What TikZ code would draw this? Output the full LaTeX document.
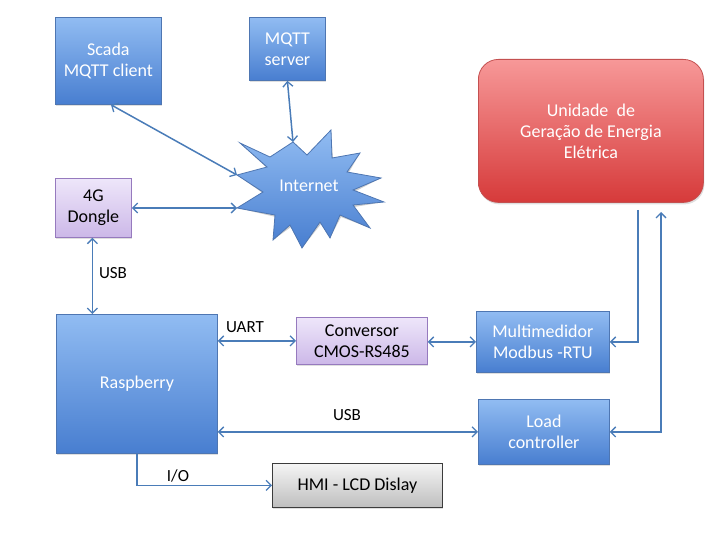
\documentclass[tikz,border=0pt]{standalone}
\usepackage{fontspec}
\setmainfont{Carlito}
\usetikzlibrary{arrows.meta,calc,shadows}
\definecolor{arrC}{RGB}{74,124,184}
\definecolor{blueTop}{RGB}{145,188,242}
\definecolor{blueBot}{RGB}{72,126,208}
\definecolor{blueBd}{RGB}{78,118,178}
\definecolor{purTop}{RGB}{238,230,250}
\definecolor{purBot}{RGB}{204,184,232}
\definecolor{purBd}{RGB}{150,122,190}
\definecolor{grayTop}{RGB}{245,245,245}
\definecolor{grayBot}{RGB}{190,190,190}
\definecolor{grayBd}{RGB}{60,60,60}
\definecolor{redTop}{RGB}{247,152,152}
\definecolor{redBot}{RGB}{214,58,58}
\definecolor{redBd}{RGB}{196,80,80}
\begin{document}
\begin{tikzpicture}[x=1pt,y=-1pt,
  basebox/.style={rectangle,anchor=north west,inner sep=2pt,align=center,
    font=\fontsize{18}{21}\selectfont,line width=0.8pt,
    drop shadow={opacity=0.25,shadow xshift=1pt,shadow yshift=-2pt}},
  bluebox/.style={basebox,draw=blueBd,top color=blueTop,bottom color=blueBot,text=white},
  purbox/.style={basebox,draw=purBd,top color=purTop,bottom color=purBot,text=black},
  graybox/.style={basebox,draw=grayBd,top color=grayTop,bottom color=grayBot,text=black},
  redbox/.style={basebox,draw=redBd,top color=redTop,bottom color=redBot,text=white,rounded corners=20pt},
  conn/.style={draw=arrC,line width=1.5pt},
  tip/.tip={Straight Barb[length=5pt,width=10pt,line width=1.3pt]},
  lbl/.style={font=\fontsize{17}{20}\selectfont,text=black,inner sep=0pt}]
\useasboundingbox (0,0) rectangle (720,540);

% boxes
\node[bluebox,minimum width=106pt,minimum height=87pt] (scada) at (55,17) {Scada\\MQTT client};
\node[bluebox,minimum width=76pt,minimum height=63pt] (mqtt) at (249,17) {MQTT\\server};
\node[purbox,minimum width=76pt,minimum height=59pt] (dongle) at (55,178) {4G\\Dongle};
\node[bluebox,minimum width=161pt,minimum height=139pt] (rasp) at (56,314) {Raspberry};
\node[purbox,minimum width=131pt,minimum height=47pt] (conv) at (296,317) {Conversor\\CMOS-RS485};
\node[graybox,minimum width=170pt,minimum height=44pt] (hmi) at (272,463) {HMI - LCD Dislay};
\node[redbox,minimum width=225pt,minimum height=143pt] (unid) at (478,59) {Unidade\ \ de\\Geração de Energia\\Elétrica};
\node[bluebox,minimum width=133pt,minimum height=61pt] (multi) at (476,311) {Multimedidor\\Modbus -RTU};
\node[bluebox,minimum width=131pt,minimum height=65pt] (load) at (478,399) {Load\\controller};

% star (Internet)
\coordinate (s1) at (240,143);
\coordinate (s2) at (293,142);
\coordinate (s3) at (331,130);
\coordinate (s4) at (360,153);
\coordinate (s5) at (381,178);
\coordinate (s6) at (384,202);
\coordinate (s7) at (370,228);
\coordinate (s8) at (330,238);
\coordinate (s9) at (302,248);
\coordinate (s10) at (273,240);
\coordinate (s11) at (237,208);
\coordinate (s12) at (237,175);
\fill[black,opacity=0.2,shift={(1,2)}] (s1) -- (270,157) -- (s2) -- (307,155) -- (s3) -- (332,158) -- (s4) -- (347,172) -- (s5) -- (353,190) -- (s6) -- (353,205) -- (s7) -- (340,215) -- (s8) -- (320,222) -- (s9) -- (290,225) -- (s10) -- (275,215) -- (s11) -- (263,192) -- (s12) -- (267,167) -- cycle;
\draw[draw=blueBd,line width=0.8pt,top color=blueTop,bottom color=blueBot,line join=miter]
  (s1) -- (270,157) -- (s2) -- (307,155) -- (s3) -- (332,158) -- (s4) -- (347,172) -- (s5) -- (353,190) -- (s6) -- (353,205) -- (s7) -- (340,215) -- (s8) -- (320,222) -- (s9) -- (290,225) -- (s10) -- (275,215) -- (s11) -- (263,192) -- (s12) -- (267,167) -- cycle;
\node[text=white,font=\fontsize{18}{21}\selectfont,inner sep=0pt] (inet) at (309,186) {Internet};

% connectors
\coordinate (scA) at ($(scada.south west)+(56,0)$);
\draw[conn,{tip}-{tip}] (scA) -- (s12);
\draw[conn,{tip}-{tip}] (mqtt.south) -- (s2);
\draw[conn,{tip}-{tip}] (dongle.east |- s11) -- (s11);
\draw[conn,{tip}-{tip}] ([xshift=-1pt]dongle.south) -- ([xshift=-1pt]dongle.south |- rasp.north);
\draw[conn,{tip}-{tip}] (conv.west -| rasp.east) -- (conv.west);
\draw[conn,{tip}-{tip}] (conv.east |- multi.west) -- (multi.west);
\draw[conn,{tip}-{tip}] (load.west -| rasp.east) -- (load.west);
\coordinate (io) at ($(rasp.south west)+(81,0)$);
\draw[conn,-{tip}] (io) |- (hmi.west);
\coordinate (uA) at (638,210);
\coordinate (uB) at (661,212);
\draw[conn,-{tip}] (uA) |- (multi.east);
\draw[conn,{tip}-{tip}] (load.east) -| (uB);

% labels
\node[lbl] (lusb1) at (113,273) {USB};
\node[lbl] (luart) at (245,327) {UART};
\node[lbl] (lusb2) at (347,415) {USB};
\node[lbl] (lio) at (178,476) {I/O};
\end{tikzpicture}
\end{document}
